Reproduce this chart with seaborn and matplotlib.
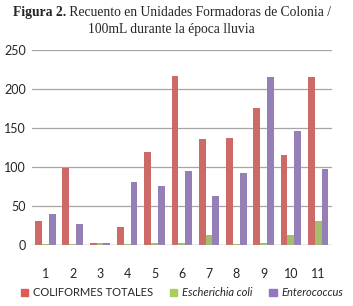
import numpy as np
import pandas as pd
import matplotlib
matplotlib.use("Agg")
import matplotlib.pyplot as plt
import seaborn as sns

# muestras y recuentos (UFC/100mL)
muestras = ["1", "2", "3", "4", "5", "6", "7", "8", "9", "10", "11"]
coliformes = [31, 99, 2, 23, 119, 216, 136, 137, 175, 115, 215]
e_coli = [1, 1, 2, 1, 2, 2, 12, 1, 2, 12, 30]
enterococcus = [40, 27, 2, 80, 75, 95, 63, 92, 215, 146, 97]

series = ["COLIFORMES TOTALES", "Escherichia coli", "Enterococcus"]
colores = ["#de5a57", "#a9cc5e", "#9277c0"]

df = pd.DataFrame({
    "muestra": muestras * 3,
    "valor": coliformes + e_coli + enterococcus,
    "serie": [series[0]] * 11 + [series[1]] * 11 + [series[2]] * 11,
})

sns.set_style("white")
plt.rcParams["font.family"] = ["Lato", "DejaVu Sans"]

fig = plt.figure(figsize=(3.53, 3.06), dpi=100)
ax = fig.add_axes([0.09, 0.2, 0.85, 0.637])

sns.barplot(data=df, x="muestra", y="valor", hue="serie", palette=colores,
            width=0.75, edgecolor="none", ax=ax, legend=False)

ax.set_ylim(0, 250)
ax.set_yticks(np.arange(0, 251, 50))
ax.yaxis.grid(True, color="#a6a6a6", linewidth=0.9)
ax.set_axisbelow(True)
for s in ax.spines.values():
    s.set_visible(False)
ax.set_xlabel("")
ax.set_ylabel("")
ax.tick_params(axis="y", labelsize=9, pad=4, length=0)
ax.tick_params(axis="x", labelsize=9, pad=17, length=0)
ax.axhline(0, color="#a6a6a6", linewidth=0.9)

# leyenda
handles = [plt.Rectangle((0, 0), 1, 1, color=c) for c in colores]
leg = fig.legend(handles, series, loc="center", bbox_to_anchor=(0.515, 0.043),
                 ncol=3, frameon=False, fontsize=8, handlelength=0.7,
                 handleheight=0.7, handletextpad=0.4, columnspacing=1.5)
for t in leg.get_texts()[1:]:
    t.set_fontstyle("italic")

# titulo: primera linea con "Figura 2." en negrita, centrada
fam = ["Liberation Serif", "DejaVu Serif"]
renderer = fig.canvas.get_renderer()
t1 = fig.text(0, 0.96, "Figura 2.", fontsize=9.8, fontweight="bold",
              family=fam, ha="left", va="center")
t2 = fig.text(0, 0.96, " Recuento en Unidades Formadoras de Colonia /",
              fontsize=9.8, family=fam, ha="left", va="center")
w1 = t1.get_window_extent(renderer).width / fig.bbox.width
w2 = t2.get_window_extent(renderer).width / fig.bbox.width
x0 = 0.488 - (w1 + w2) / 2
t1.set_x(x0)
t2.set_x(x0 + w1)
fig.text(0.485, 0.902, "100mL durante la época lluvia", fontsize=9.8,
         family=fam, ha="center", va="center")

fig.savefig("out.png", dpi=100)
